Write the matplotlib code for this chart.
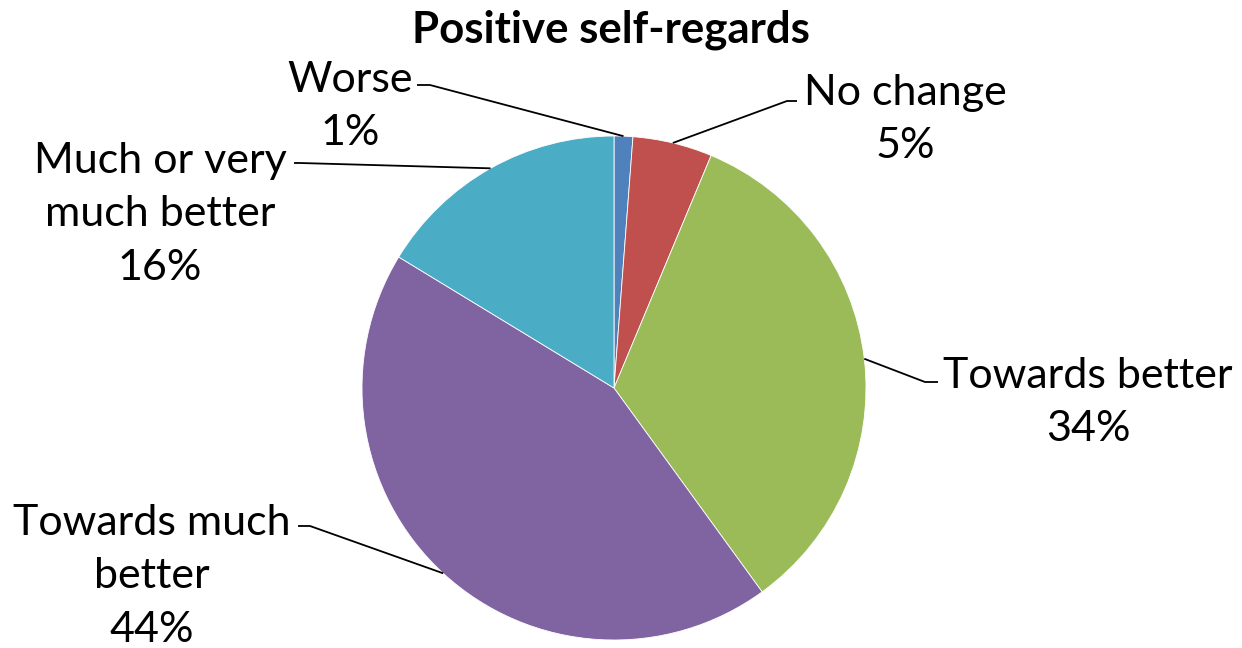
import matplotlib.pyplot as plt
import numpy as np

categories = ['Worse', 'No change', 'Towards better', 'Towards much better', 'Much or very much better']
values = [1.2, 5.1, 33.7, 43.7, 16.3]
label_text = ['Worse', 'No change', 'Towards better', 'Towards much\nbetter', 'Much or very\nmuch better']
colors = ['#4F81BD', '#C0504D', '#9BBB59', '#8064A2', '#4BACC6']

plt.rcParams['font.family'] = ['Lato', 'DejaVu Sans']

W, H = 1242, 648
fig = plt.figure(figsize=(W / 100, H / 100), dpi=100)
ax = fig.add_axes([0, 0, 1, 1])

cx, cy, r = 614, H - 388, 252
wedges, _ = ax.pie(values, colors=colors, startangle=90, counterclock=False,
                   center=(cx, cy), radius=r,
                   wedgeprops=dict(edgecolor='white', linewidth=0.6))
ax.set_xlim(0, W)
ax.set_ylim(0, H)
ax.set_aspect('equal')
ax.axis('off')

# leader elbow, line end next to text, text center x / last baseline (px from top)
elbow = [(430, 85), (787, 101), (925, 382), (310, 526), (300, 163)]
line_end = [(417, 85), (797, 101), (938, 382), (298, 526), (294, 163)]
text_pos = [(350, 145), (905, 158), (1088, 441), (152, 642), (160, 280)]

for w, v, lab, e, le, tp in zip(wedges, values, label_text, elbow, line_end, text_pos):
    mid = np.deg2rad((w.theta1 + w.theta2) / 2)
    ax.plot([cx + r * np.cos(mid), e[0], le[0]],
            [cy + r * np.sin(mid), H - e[1], H - le[1]],
            color='black', lw=1.3, solid_capstyle='butt')
    ax.text(tp[0], H - tp[1], f'{lab}\n{round(v)}%', ha='center', va='baseline',
            fontsize=31, linespacing=1.5)

ax.text(611, H - 42, 'Positive self-regards', ha='center', va='baseline',
        fontsize=31.5, fontweight='bold')

fig.savefig('out.png', dpi=100)
